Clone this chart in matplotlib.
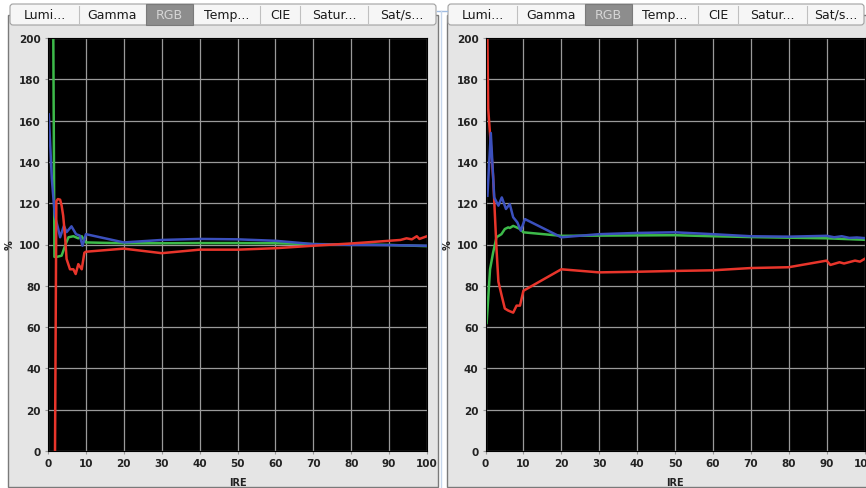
import matplotlib
matplotlib.use("Agg")
import matplotlib.pyplot as plt
from matplotlib.patches import Rectangle, FancyBboxPatch

W, H = 866, 489

tabs = ["Lumi...", "Gamma", "RGB", "Temp...", "CIE", "Satur...", "Sat/s..."]
selected = "RGB"
ire_ticks = list(range(0, 101, 10))
pct_ticks = list(range(0, 201, 20))

# ---- left panel (IRE vs % per channel) ----
red_x_L = [1.85, 2.2, 2.6, 3.2, 3.6, 4.0, 4.5, 4.9, 5.8, 6.7, 7.3, 8.0, 8.9, 9.6, 10,
           20, 30, 40, 50, 60, 70, 80, 90, 93, 94.6, 96, 97.3, 98, 100]
red_y_L = [0, 121, 122, 121.7, 118.8, 114, 104, 93, 88, 88, 85.7, 90.5, 88, 96, 96.5,
           98, 95.8, 97.5, 97.5, 98.2, 99.4, 100.5, 101.8, 102.2, 103, 102.5, 104, 102.7, 104]
green_x_L = [1.4, 1.7, 2.3, 3.6, 4.5, 5.4, 6.7, 8.0, 8.9, 9.4, 10,
             20, 30, 40, 50, 60, 70, 80, 90, 100]
green_y_L = [200, 94, 94, 94.6, 99.4, 103.5, 104, 103, 104, 102.4, 101,
             100.6, 100.6, 100.7, 100.7, 100.6, 100.2, 100, 99.8, 99.2]
blue_x_L = [0.2, 1.0, 1.8, 2.7, 3.2, 4.2, 4.9, 6.2, 7.4, 8.4, 9.1, 10,
            20, 30, 40, 50, 60, 70, 80, 90, 100]
blue_y_L = [163, 132, 114, 107.5, 103.5, 109, 106, 108.8, 105, 104.3, 99.4, 105,
            101, 102.2, 102.7, 102.5, 101.8, 100.2, 99.8, 99.7, 99.4]

# ---- right panel ----
red_x_R = [0.5, 0.7, 2.0, 2.9, 3.4, 4.3, 5.1, 6.0, 7.3, 8.2, 9.1, 10,
           20, 30, 40, 50, 60, 70, 80, 90, 91, 93.4, 94.6, 97.5, 98.8, 100]
red_y_R = [200, 166, 133, 98, 82, 75, 69, 68, 67, 70.4, 70.4, 77.6,
           88, 86.5, 86.8, 87.2, 87.5, 88.6, 89, 92.2, 90.1, 91.4, 90.8, 92.2, 91.7, 93]
green_x_R = [0.3, 1.2, 2.0, 2.9, 4.2, 5.1, 6.0, 6.4, 7.3, 8.2, 9.1, 10,
             20, 30, 40, 50, 60, 70, 80, 90, 100]
green_y_R = [62, 88, 96, 103.5, 105, 107.5, 108.3, 108, 109, 108.3, 107.5, 105.9,
             104.2, 104.3, 104.4, 104.5, 104, 103.6, 103.3, 103, 102.3]
blue_x_R = [0.5, 1.4, 2.3, 3.4, 4.3, 5.4, 6.4, 7.3, 8.4, 9.3, 10.4,
            20, 30, 40, 50, 60, 70, 80, 90, 92, 94, 96, 98, 100]
blue_y_R = [123.6, 154, 122.8, 118.8, 122.8, 117.2, 119.6, 113.2, 110.7, 106.7, 112.3,
            103.5, 105, 105.6, 105.9, 105, 104, 103.8, 104.2, 103.5, 104, 103.2, 103.4, 103.1]

RED, GREEN, BLUE = "#e8352b", "#3dba4a", "#3b50bd"

fig = plt.figure(figsize=(W / 100, H / 100), dpi=100)
fig.patch.set_facecolor("white")

# pixel-space background layer for the window chrome
bg = fig.add_axes([0, 0, 1, 1])
bg.set_xlim(0, W); bg.set_ylim(H, 0); bg.axis("off")


def chrome(x0, x1, edges):
    bg.add_patch(Rectangle((x0, 16), x1 - x0, 472, fc="#e5e5e5", ec="#7a7a7a", lw=1))
    bg.add_patch(FancyBboxPatch((edges[0], 5), edges[-1] - edges[0], 21,
                                boxstyle="round,pad=0,rounding_size=3",
                                fc="#f6f6f6", ec="#a0a0a0", lw=0.8))
    for i, name in enumerate(tabs):
        a, b = edges[i], edges[i + 1]
        col = "#1a1a1a"
        if name == selected:
            bg.add_patch(Rectangle((a, 5), b - a, 21, fc="#8d8d8d", ec="#7a7a7a", lw=0.8))
            col = "#d6d6d6"
        elif i > 0 and tabs[i - 1] != selected:
            bg.plot([a, a], [7, 24], color="#c0c0c0", lw=0.8)
        bg.text((a + b) / 2, 15.5, name, ha="center", va="center", fontsize=9, color=col)


chrome(8, 438, [10, 79, 146, 193, 260, 300, 368, 436])
chrome(447, 880, [448, 517, 585, 632, 698, 738, 807, 864])
bg.plot([437, 447], [12, 12], color="#9fbbe0", lw=1)
bg.plot([441, 441], [12, 489], color="#c7d7ec", lw=1)


def panel(left_px, series):
    ax = fig.add_axes([left_px / W, 37 / H, 379 / W, 413 / H])
    ax.set_facecolor("black")
    for x, y, c in series:
        ax.plot(x, y, color=c, lw=1.8, solid_joinstyle="round")
    ax.set_xlim(0, 100); ax.set_ylim(0, 200)
    ax.set_xticks(ire_ticks); ax.set_yticks(pct_ticks)
    ax.grid(True, color="#9a9a9a", lw=0.9)
    ax.set_axisbelow(True)
    ax.tick_params(length=2, color="#9a9a9a", labelsize=7.5, pad=3, labelcolor="#222222")
    for lab in ax.get_xticklabels() + ax.get_yticklabels():
        lab.set_fontweight("bold")
    for s in ax.spines.values():
        s.set_color("black")
    ax.set_xlabel("IRE", fontsize=7, fontweight="bold", color="#222222")
    ax.set_ylabel("%", fontsize=7, fontweight="bold", color="#222222")
    ax.xaxis.set_label_coords(0.5, -0.063)
    ax.yaxis.set_label_coords(-0.087, 0.5)
    return ax


panel(48, [(green_x_L, green_y_L, GREEN), (blue_x_L, blue_y_L, BLUE), (red_x_L, red_y_L, RED)])
panel(485.5, [(green_x_R, green_y_R, GREEN), (red_x_R, red_y_R, RED), (blue_x_R, blue_y_R, BLUE)])

fig.savefig("out.png", dpi=100)
